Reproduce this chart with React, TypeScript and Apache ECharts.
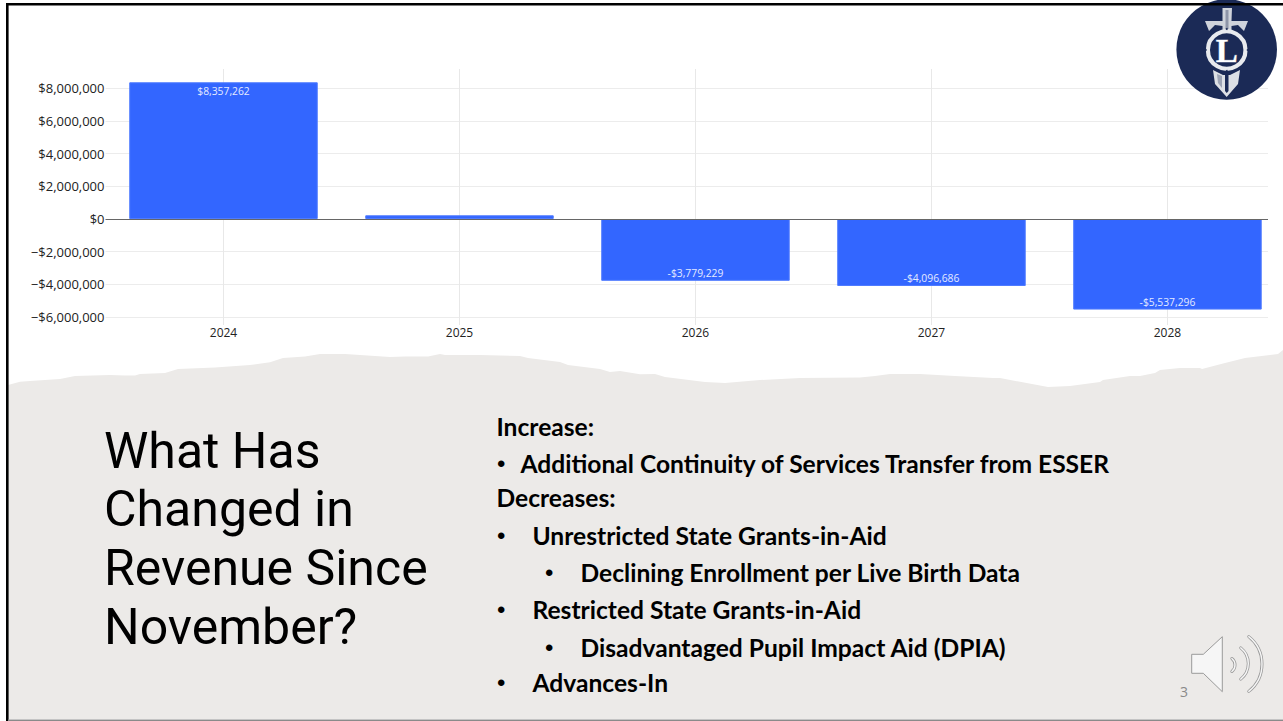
import React, { useEffect, useRef } from "react";
import * as echarts from "echarts";

const years = [2024, 2025, 2026, 2027, 2028];
const revenueChange = [8357262, 226000, -3779229, -4096686, -5537296];
const yTicks = [-6000000, -4000000, -2000000, 0, 2000000, 4000000, 6000000, 8000000];

const titleLines = ["What Has", "Changed in", "Revenue Since", "November?"];
const bodyLines = [
  { text: "Increase:", x: 496.5, y: 426 },
  { text: "Additional Continuity of Services Transfer from ESSER", x: 520.5, y: 463, bullet: 497 },
  { text: "Decreases:", x: 496.5, y: 497 },
  { text: "Unrestricted State Grants-in-Aid", x: 532.5, y: 535, bullet: 497 },
  { text: "Declining Enrollment per Live Birth Data", x: 580.5, y: 572, bullet: 545 },
  { text: "Restricted State Grants-in-Aid", x: 532.5, y: 609, bullet: 497 },
  { text: "Disadvantaged Pupil Impact Aid (DPIA)", x: 580.5, y: 647, bullet: 545 },
  { text: "Advances-In", x: 532.5, y: 682, bullet: 497 },
];

const tornEdge = [
  [8, 385], [20, 381.7], [30, 381], [60, 379], [75, 376], [110, 375], [125, 375.5], [135, 375.5], [140, 374],
  [165, 373], [178, 369], [215, 367.5], [250, 365], [270, 362.3], [283, 358], [305, 356.5], [320, 354],
  [345, 354], [390, 357], [405, 356.5], [428, 356.5], [440, 354], [445, 355], [480, 355], [520, 356], [528, 358],
  [560, 362], [568, 365], [600, 369], [610, 372], [620, 371], [640, 374.3], [655, 374], [665, 377], [705, 382],
  [725, 383], [760, 380], [800, 378], [860, 377.5], [875, 376], [890, 374], [920, 374], [955, 376], [993, 378],
  [1000, 378], [1048, 387], [1070, 386], [1100, 382], [1103, 380], [1130, 376], [1140, 376], [1155, 373],
  [1160, 370], [1180, 368], [1200, 368], [1202, 369], [1225, 363], [1245, 358], [1270, 355], [1278, 354], [1283, 350],
];

const money = (v: number, minus: string) =>
  (v < 0 ? minus : "") + "$" + Math.abs(v).toLocaleString("en-US");

const SANS = '"Open Sans", sans-serif';
const BODY = "Lato, sans-serif";
const NAVY = "#1B2A56";

function buildGraphic() {
  const els: any[] = [
    { type: "polygon", z: 0, shape: { points: [...tornEdge, [1283, 719], [8, 719]] }, style: { fill: "#ECEAE8" } },
    { type: "rect", z: 50, shape: { x: 6, y: 3, width: 1277, height: 2.6 }, style: { fill: "#000" } },
    { type: "rect", z: 50, shape: { x: 6, y: 3, width: 2.6, height: 718 }, style: { fill: "#000" } },
    { type: "rect", z: 50, shape: { x: 8, y: 719.4, width: 1275, height: 1.6 }, style: { fill: "#8a8a8a" } },
    // logo
    { type: "circle", z: 40, shape: { cx: 1226.7, cy: 49.5, r: 50.3 }, style: { fill: NAVY } },
    { type: "polygon", z: 41, shape: { points: [[1222.5, 8], [1232, 8], [1231.5, 21], [1248, 21], [1244, 31], [1238, 25], [1231.5, 26], [1231.5, 31], [1222.5, 31], [1222.5, 26], [1215, 25], [1209, 31], [1205, 21], [1222.5, 21]] }, style: { fill: "#CFD3DB" } },
    { type: "polygon", z: 42, shape: { points: [[1225.5, 10], [1228.5, 10], [1228.5, 29], [1225.5, 29]] }, style: { fill: "#8E95A8" } },
    { type: "polygon", z: 41, shape: { points: [[1213, 70], [1223, 75], [1230, 75], [1240, 70], [1238, 84], [1226.7, 97], [1215, 84]] }, style: { fill: "#DDE0E5" } },
    { type: "polygon", z: 42, shape: { points: [[1225, 75], [1228.5, 75], [1228.5, 91], [1226.7, 93], [1225, 91]] }, style: { fill: NAVY } },
    { type: "polygon", z: 42, shape: { points: [[1217, 74], [1222, 76], [1222, 88], [1218, 83]] }, style: { fill: "#9DA4B5" } },
    { type: "circle", z: 43, shape: { cx: 1226.7, cy: 50, r: 18.8 }, style: { fill: NAVY, stroke: "#E8EAEE", lineWidth: 4.2 } },
    { type: "text", z: 44, style: { text: "L", x: 1226.7, y: 50.5, fill: "#FFFFFF", font: 'bold 33px "Liberation Serif", serif', align: "center", verticalAlign: "middle", stroke: "#7d86a0", lineWidth: 1 } },
    // speaker
    { type: "polygon", z: 10, shape: { points: [[1191.7, 654.3], [1203.3, 654.3], [1222.3, 636.7], [1222.3, 691.7], [1203.3, 673.3], [1191.7, 673.3]] }, style: { fill: "#F6F6F6", stroke: "#9a9a9a", lineWidth: 1 } },
    { type: "text", z: 10, style: { text: "3", x: 1184, y: 691, fill: "#898989", font: `14px ${SANS}`, align: "center", verticalAlign: "middle" } },
  ];
  [[1226.7, 29], [1226.7, 71], [1205.7, 50], [1247.7, 50]].forEach(([cx, cy]) => {
    els.push({ type: "circle", z: 44, shape: { cx, cy, r: 1 }, style: { fill: NAVY } });
  });
  const arcs = [
    { cx: 1226.7, cy: 665, r: 8.3 },
    { cx: 1228.3, cy: 663.5, r: 20 },
    { cx: 1227, cy: 664, r: 35 },
  ];
  arcs.forEach((a) => {
    const shape = { ...a, startAngle: -0.9, endAngle: 0.9, clockwise: true };
    els.push({ type: "arc", z: 10, shape, style: { stroke: "#9a9a9a", lineWidth: 3, fill: "none", lineCap: "round" } });
    els.push({ type: "arc", z: 11, shape, style: { stroke: "#F6F6F6", lineWidth: 1.4, fill: "none", lineCap: "round" } });
  });
  titleLines.forEach((t, i) => {
    els.push({ type: "text", z: 20, style: { text: t, x: 104, y: 450.5 + i * 58.7, fill: "#000", font: `50px Roboto, sans-serif`, verticalAlign: "middle" } });
  });
  bodyLines.forEach((l) => {
    els.push({ type: "text", z: 20, style: { text: l.text, x: l.x, y: l.y, fill: "#000", font: `bold 24.6px ${BODY}`, verticalAlign: "middle" } });
    if (l.bullet) {
      els.push({ type: "text", z: 20, style: { text: "•", x: l.bullet, y: l.y, fill: "#000", font: '24px "Liberation Sans", sans-serif', verticalAlign: "middle" } });
    }
  });
  return els;
}

export default function App() {
  const ref = useRef<HTMLDivElement>(null);
  useEffect(() => {
    const chart = echarts.init(ref.current!, undefined, { renderer: "svg" });
    chart.setOption({
      animation: false,
      backgroundColor: "#fff",
      grid: { left: 105.5, right: 15, top: 69, bottom: 396 },
      xAxis: {
        type: "value",
        min: 2023.5,
        max: 2028.426,
        axisLine: { show: false, onZero: false },
        axisTick: { show: false, customValues: years },
        splitLine: { show: true, lineStyle: { color: "#E8E8E8", width: 1 } },
        axisLabel: {
          customValues: years,
          formatter: (v: number) => String(v),
          color: "#222",
          fontFamily: SANS,
          fontSize: 12,
          margin: 1,
          hideOverlap: false,
          showMinLabel: true,
          showMaxLabel: true,
        },
      },
      yAxis: {
        type: "value",
        min: -6480000,
        max: 9170000,
        axisLine: { show: false },
        axisTick: { show: false, customValues: yTicks },
        splitLine: { show: true, lineStyle: { color: "#ECECEC", width: 1 } },
        axisLabel: {
          customValues: yTicks,
          formatter: (v: number) => money(v, "\u2212"),
          color: "#222",
          fontFamily: SANS,
          fontSize: 13,
          margin: 1,
        },
      },
      series: [
        {
          type: "bar",
          barWidth: 188.5,
          data: years.map((y, i) => {
            const v = revenueChange[i];
            return {
              value: [y, v],
              label: {
                show: Math.abs(v) > 1000000,
                position: v > 0 ? "insideTop" : "insideBottom",
                distance: v > 0 ? 4 : 3,
                formatter: () => money(v, "-"),
                color: "#E4EAFF",
                fontFamily: SANS,
                fontSize: 10.3,
              },
            };
          }),
          itemStyle: { color: "#3366FF", borderColor: "#4F7BFF", borderWidth: 1 },
          markLine: {
            silent: true,
            symbol: "none",
            label: { show: false },
            lineStyle: { color: "#666", width: 1, type: "solid" },
            data: [{ yAxis: 0 }],
            z: 5,
          },
        },
      ],
      graphic: buildGraphic(),
    });
    return () => chart.dispose();
  }, []);
  return <div ref={ref} style={{ position: "fixed", left: 0, top: 0, width: 1283, height: 721 }} />;
}
